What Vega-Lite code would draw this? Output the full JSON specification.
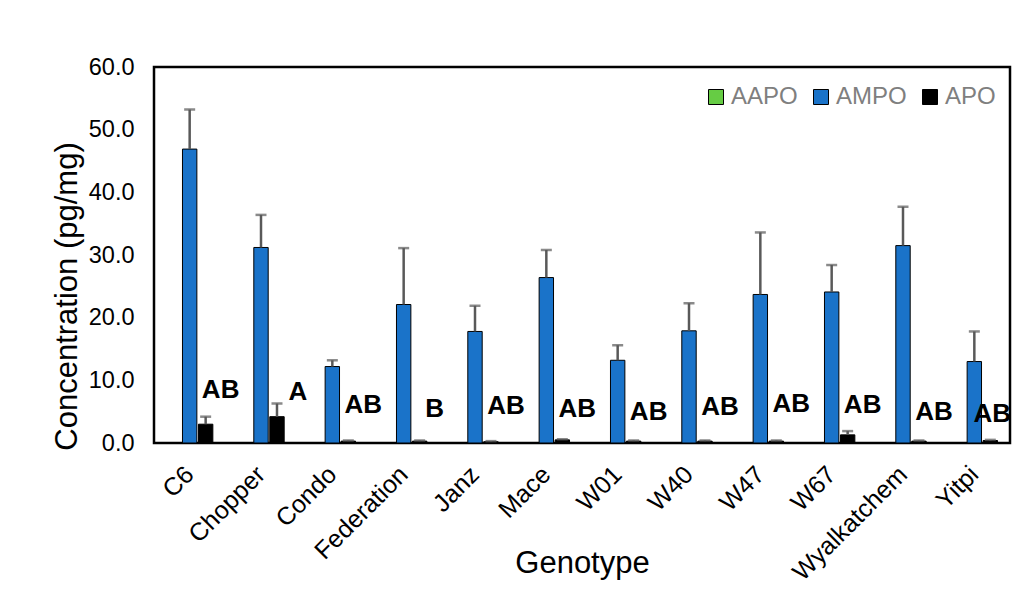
{
  "$schema": "https://vega.github.io/schema/vega-lite/v6.json",
  "width": 856,
  "height": 376,
  "autosize": {"type": "none"},
  "padding": {"left": 154, "top": 67, "right": 9, "bottom": 149},
  "background": "white",
  "config": {
    "font": "Liberation Sans",
    "view": {"stroke": "black", "strokeWidth": 2.5},
    "axis": {"grid": false, "ticks": false, "domain": false, "labelColor": "black", "titleColor": "black", "titleFontWeight": "normal", "labelFont": "Liberation Sans", "titleFont": "Liberation Sans"}
  },
  "data": {
    "values": [
      {"Genotype": "C6", "Series": "AAPO", "value": 0},
      {"Genotype": "C6", "Series": "AMPO", "value": 46.9, "upper": 53.2},
      {"Genotype": "C6", "Series": "APO", "value": 3.0, "upper": 4.2, "letter": "AB", "letter_y": 8.5},
      {"Genotype": "Chopper", "Series": "AAPO", "value": 0},
      {"Genotype": "Chopper", "Series": "AMPO", "value": 31.2, "upper": 36.4},
      {"Genotype": "Chopper", "Series": "APO", "value": 4.2, "upper": 6.3, "letter": "A", "letter_y": 8.1},
      {"Genotype": "Condo", "Series": "AAPO", "value": 0},
      {"Genotype": "Condo", "Series": "AMPO", "value": 12.2, "upper": 13.2},
      {"Genotype": "Condo", "Series": "APO", "value": 0.3, "upper": 0.4, "letter": "AB", "letter_y": 6.0},
      {"Genotype": "Federation", "Series": "AAPO", "value": 0},
      {"Genotype": "Federation", "Series": "AMPO", "value": 22.1, "upper": 31.1},
      {"Genotype": "Federation", "Series": "APO", "value": 0.3, "upper": 0.4, "letter": "B", "letter_y": 5.4},
      {"Genotype": "Janz", "Series": "AAPO", "value": 0},
      {"Genotype": "Janz", "Series": "AMPO", "value": 17.8, "upper": 21.9},
      {"Genotype": "Janz", "Series": "APO", "value": 0.2, "upper": 0.3, "letter": "AB", "letter_y": 5.9},
      {"Genotype": "Mace", "Series": "AAPO", "value": 0},
      {"Genotype": "Mace", "Series": "AMPO", "value": 26.4, "upper": 30.8},
      {"Genotype": "Mace", "Series": "APO", "value": 0.5, "upper": 0.6, "letter": "AB", "letter_y": 5.5},
      {"Genotype": "W01", "Series": "AAPO", "value": 0},
      {"Genotype": "W01", "Series": "AMPO", "value": 13.2, "upper": 15.6},
      {"Genotype": "W01", "Series": "APO", "value": 0.3, "upper": 0.4, "letter": "AB", "letter_y": 4.9},
      {"Genotype": "W40", "Series": "AAPO", "value": 0},
      {"Genotype": "W40", "Series": "AMPO", "value": 17.9, "upper": 22.3},
      {"Genotype": "W40", "Series": "APO", "value": 0.3, "upper": 0.4, "letter": "AB", "letter_y": 5.7},
      {"Genotype": "W47", "Series": "AAPO", "value": 0},
      {"Genotype": "W47", "Series": "AMPO", "value": 23.7, "upper": 33.6},
      {"Genotype": "W47", "Series": "APO", "value": 0.3, "upper": 0.4, "letter": "AB", "letter_y": 6.2},
      {"Genotype": "W67", "Series": "AAPO", "value": 0},
      {"Genotype": "W67", "Series": "AMPO", "value": 24.1, "upper": 28.4},
      {"Genotype": "W67", "Series": "APO", "value": 1.3, "upper": 1.9, "letter": "AB", "letter_y": 6.0},
      {"Genotype": "Wyalkatchem", "Series": "AAPO", "value": 0},
      {"Genotype": "Wyalkatchem", "Series": "AMPO", "value": 31.5, "upper": 37.7},
      {"Genotype": "Wyalkatchem", "Series": "APO", "value": 0.3, "upper": 0.4, "letter": "AB", "letter_y": 5.0},
      {"Genotype": "Yitpi", "Series": "AAPO", "value": 0},
      {"Genotype": "Yitpi", "Series": "AMPO", "value": 13.0, "upper": 17.8},
      {"Genotype": "Yitpi", "Series": "APO", "value": 0.4, "upper": 0.5, "letter": "AB", "letter_y": 4.6}
    ]
  },
  "encoding": {
    "x": {
      "field": "Genotype", "type": "nominal", "sort": null,
      "scale": {"paddingInner": 0.35, "paddingOuter": 0.175},
      "axis": {"title": "Genotype", "labelAngle": -45, "labelAlign": "right", "labelBaseline": "middle", "labelFontSize": 25, "labelPadding": 27, "titleFontSize": 31, "titleX": 428, "titleY": 129, "titleBaseline": "alphabetic", "titleAlign": "center"}
    },
    "xOffset": {"field": "Series", "type": "nominal", "scale": {"domain": ["AAPO", "AMPO", "APO"], "paddingInner": 0.1}}
  },
  "layer": [
    {
      "mark": {"type": "bar", "stroke": "black", "strokeWidth": 1},
      "encoding": {
        "y": {
          "field": "value", "type": "quantitative",
          "scale": {"domain": [0, 60], "nice": false},
          "axis": {"title": "Concentration (pg/mg)", "values": [0, 10, 20, 30, 40, 50, 60], "format": ".1f", "labelFontSize": 23.5, "labelPadding": 20, "titleFontSize": 31, "titleX": -87, "titleY": 229, "titleBaseline": "middle", "titleAlign": "center", "titleAngle": -90}
        },
        "color": {
          "field": "Series", "type": "nominal",
          "scale": {"domain": ["AAPO", "AMPO", "APO"], "range": ["#66cc44", "#1a73c9", "#000000"]},
          "legend": {"title": null, "orient": "none", "legendX": 550, "legendY": 18, "direction": "horizontal", "symbolType": "square", "symbolSize": 225, "labelFontSize": 24, "labelColor": "#7f7f7f", "labelOffset": 3, "columnPadding": 11, "symbolStrokeWidth": 1}
        }
      }
    },
    {
      "transform": [{"filter": "datum.Series != 'AAPO'"}],
      "mark": {"type": "rule", "color": "#595959", "strokeWidth": 2.5},
      "encoding": {"y": {"field": "value", "type": "quantitative"}, "y2": {"field": "upper"}}
    },
    {
      "transform": [{"filter": "datum.Series != 'AAPO'"}],
      "mark": {"type": "tick", "color": "#595959", "thickness": 2.5, "size": 11},
      "encoding": {"y": {"field": "upper", "type": "quantitative"}}
    },
    {
      "transform": [{"filter": "isValid(datum.letter)"}],
      "mark": {"type": "text", "fontWeight": "bold", "fontSize": 26, "dx": {"expr": "datum.Genotype == 'Yitpi' ? 2 : (datum.Genotype == 'Chopper' ? 21 : 15)"}, "color": "black", "baseline": "middle", "align": "center"},
      "encoding": {"y": {"field": "letter_y", "type": "quantitative"}, "text": {"field": "letter"}}
    }
  ]
}
